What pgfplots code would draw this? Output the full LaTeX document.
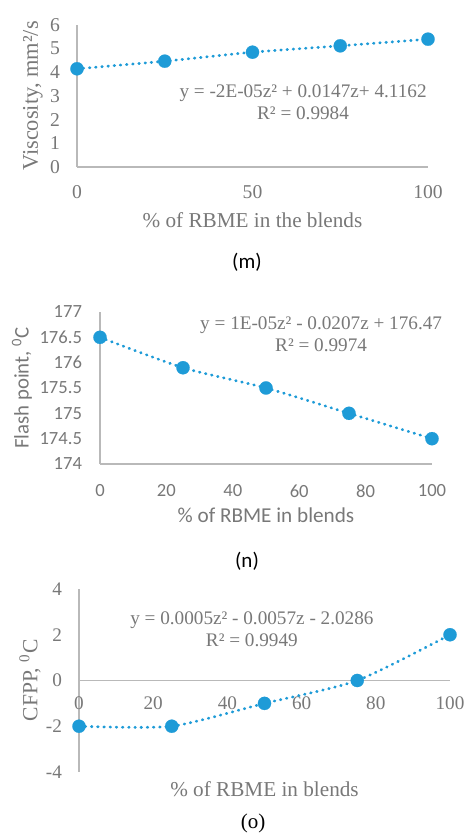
\documentclass[border=0pt]{standalone}
\usepackage{fontspec}
\setmainfont{Liberation Serif}
\newfontfamily\calibri{Carlito}
\usepackage{pgfplots}
\pgfplotsset{compat=1.18}

\definecolor{ptblue}{RGB}{30,155,215}
\definecolor{txtgray}{RGB}{120,120,120}
\definecolor{axgray}{RGB}{185,185,185}

\pgfplotsset{
  panel/.style={
    scale only axis, anchor=south west, clip=false,
    axis y line=left,
    axis line style={-, draw=axgray, line width=0.7pt},
    x axis line style={-}, y axis line style={-},
    major tick length=0pt,
    /pgf/number format/assume math mode=true,
    ticklabel style={text=txtgray},
    label style={text=txtgray},
  },
  trend/.style={
    color=ptblue, smooth, tension=0.4, line width=1.4pt, line cap=round,
    dash pattern=on 0.3pt off 2.8pt,
    mark=*, mark size=3.3pt,
    mark options={solid, fill=ptblue, draw=ptblue, line width=0.1pt},
  },
}
\tikzset{eq/.style={align=center, text=txtgray, inner sep=0pt,
  font=\fontsize{9.6}{10.8}\selectfont}}

\begin{document}
\begin{tikzpicture}
\path[use as bounding box] (0,0) rectangle (232.5pt,416.5pt);

% (m) viscosity
\begin{axis}[axis x line=bottom, panel,
  at={(38.5pt,333pt)}, width=175.5pt, height=71pt,
  xmin=0, xmax=100, ymin=0, ymax=6,
  xtick={0,50,100}, ytick={0,1,...,6},
  ticklabel style={font=\fontsize{9.8}{11}\selectfont},
  xticklabel style={anchor=center, yshift=-12.5pt},
  yticklabel style={anchor=east, xshift=-5pt},
  xlabel={\% of RBME in the blends},
  xlabel style={at={(axis description cs:0.5,-0.373)}, anchor=center,
    font=\fontsize{10.6}{12}\selectfont},
  ylabel={Viscosity, mm²/s},
  ylabel style={at={(axis description cs:-0.1254,0.5)}, anchor=center,
    font=\fontsize{11.2}{13}\selectfont},
]
\addplot[trend] coordinates {(0,4.15) (25,4.47) (50,4.85) (75,5.12) (100,5.4)};
\node[eq] at (axis cs:64.4,2.725) {y = -2E-05z² + 0.0147z+ 4.1162\\R² = 0.9984};
\end{axis}

% (n) flash point
\begin{axis}[axis x line=bottom, panel,
  at={(50pt,184.5pt)}, width=166pt, height=76pt,
  xmin=0, xmax=100, ymin=174, ymax=177,
  xtick={0,20,...,100}, ytick={174,174.5,...,177},
  yticklabels={174,174.5,175,175.5,176,176.5,177},
  ticklabel style={font=\calibri\fontsize{9.3}{11}\selectfont},
  xticklabel style={anchor=center, yshift=-13.5pt},
  yticklabel style={anchor=east, xshift=-5.5pt},
  xlabel={\% of RBME in blends},
  xlabel style={at={(axis description cs:0.5,-0.336)}, anchor=center,
    font=\calibri\fontsize{10.6}{12}\selectfont},
  ylabel={Flash point, \textsuperscript{0}C},
  ylabel style={at={(axis description cs:-0.235,0.5)}, anchor=center,
    font=\calibri\fontsize{10.4}{12}\selectfont},
]
\addplot[trend] coordinates {(0,176.5) (25,175.9) (50,175.5) (75,175.0) (100,174.5)};
\node[eq] at (axis cs:66.6,176.556) {y = 1E-05z² - 0.0207z + 176.47\\R² = 0.9974};
\end{axis}

% (o) CFPP
\begin{axis}[axis x line=middle, panel, hide obscured x ticks=false,
  at={(39.5pt,30.5pt)}, width=185.5pt, height=91.5pt,
  xmin=0, xmax=100, ymin=-4, ymax=4,
  xtick={0,20,...,100}, ytick={-4,-2,...,4},
  ticklabel style={font=\fontsize{9.6}{11}\selectfont},
  xticklabel style={anchor=center, yshift=-11.5pt},
  yticklabel style={anchor=east, xshift=-5pt},
  xlabel={\% of RBME in blends},
  xlabel style={at={(axis description cs:0.5,-0.093)}, anchor=center,
    font=\fontsize{10.6}{12}\selectfont},
  ylabel={CFPP, \textsuperscript{0}C},
  ylabel style={at={(axis description cs:-0.132,0.5)}, anchor=center,
    font=\fontsize{10.8}{13}\selectfont},
]
\addplot[trend] coordinates {(0,-2) (25,-2) (50,-1) (75,0) (100,2)};
\node[eq] at (axis cs:46.6,2.25) {y = 0.0005z² - 0.0057z - 2.0286\\R² = 0.9949};
\end{axis}

\node[font=\calibri\fontsize{10.5}{12}\selectfont] at (123.5pt,285.5pt) {(m)};
\node[font=\calibri\fontsize{10.5}{12}\selectfont] at (123.5pt,136pt) {(n)};
\node[font=\fontsize{10.5}{12}\selectfont] at (126.5pt,5pt) {(o)};
\end{tikzpicture}
\end{document}
